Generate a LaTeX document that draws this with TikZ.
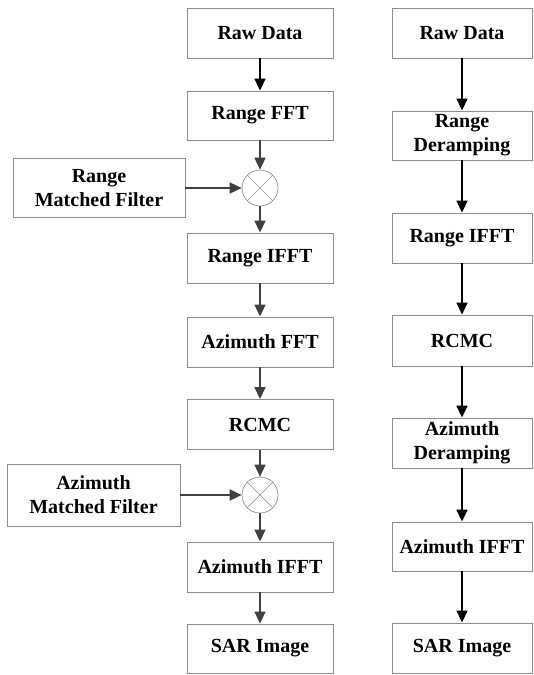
\documentclass[tikz,border=0pt]{standalone}
\usepackage{fontspec}
\setmainfont{Liberation Serif}
\usetikzlibrary{arrows.meta}
\definecolor{boxgray}{HTML}{8C8C8C}
\definecolor{arrgray}{HTML}{404040}
\tikzset{
  stage/.style={draw=boxgray, line width=0.9pt, inner sep=0pt, align=center,
    font=\fontsize{20}{24}\selectfont\bfseries},
  lbox/.style={stage, minimum width=146pt, minimum height=50pt},
  rbox/.style={stage, minimum width=140pt, minimum height=50pt},
  mixer/.style={circle, draw=boxgray, line width=0.7pt, minimum size=36pt, inner sep=0pt},
  larr/.style={draw=arrgray, line width=1.7pt, -{Triangle[width=11pt,length=12pt]}},
  rarr/.style={draw=black, line width=1.7pt, -{Triangle[width=11pt,length=12pt]}},
}
\begin{document}
\begin{tikzpicture}[x=1pt,y=-1pt]
\useasboundingbox (0,0) rectangle (534,675);
% left column
\node[lbox] (L1) at (260,33) {Raw Data};
\node[lbox, minimum height=49pt] (L2) at (260,115.5) {Range FFT};
\node[mixer] (C1) at (260,188) {};
\node[lbox] (L3) at (260,258) {Range IFFT};
\node[lbox] (L4) at (260,342) {Azimuth FFT};
\node[lbox] (L5) at (260,424.5) {RCMC};
\node[mixer] (C2) at (260,495) {};
\node[lbox] (L6) at (260,567) {Azimuth IFFT};
\node[lbox, minimum height=49pt] (L7) at (260,648.5) {SAR Image};
\node[stage, minimum width=172pt, minimum height=59pt] (F1) at (99,188) {Range\\Matched Filter};
\node[stage, minimum width=173pt, minimum height=62pt] (F2) at (93.5,495) {Azimuth\\Matched Filter};
\foreach \c in {C1,C2}{
  \draw[boxgray, line width=0.6pt] (\c.north east) -- (\c.south west);
  \draw[boxgray, line width=0.6pt] (\c.north west) -- (\c.south east);
}
\draw[rarr] (L1) -- (L2);
\draw[larr] (L2) -- (C1);
\draw[larr] (C1) -- (L3);
\draw[larr] (L3) -- (L4);
\draw[larr] (L4) -- (L5);
\draw[larr] (L5) -- (C2);
\draw[larr] (C2) -- (L6);
\draw[larr] (L6) -- (L7);
\draw[larr] (F1) -- (C1);
\draw[larr] (F2) -- (C2);
% right column
\node[rbox] (R1) at (462,33) {Raw Data};
\node[rbox, minimum height=49pt] (R2) at (462,135.5) {Range\\Deramping};
\node[rbox] (R3) at (462,238) {Range IFFT};
\node[rbox, minimum height=51pt] (R4) at (462,340.5) {RCMC};
\node[rbox] (R5) at (462,443) {Azimuth\\Deramping};
\node[rbox, minimum height=49pt] (R6) at (462,546.5) {Azimuth IFFT};
\node[rbox] (R7) at (462,648) {SAR Image};
\draw[rarr] (R1) -- (R2);
\draw[rarr] (R2) -- (R3);
\draw[rarr] (R3) -- (R4);
\draw[rarr] (R4) -- (R5);
\draw[rarr] (R5) -- (R6);
\draw[rarr] (R6) -- (R7);
\end{tikzpicture}
\end{document}
